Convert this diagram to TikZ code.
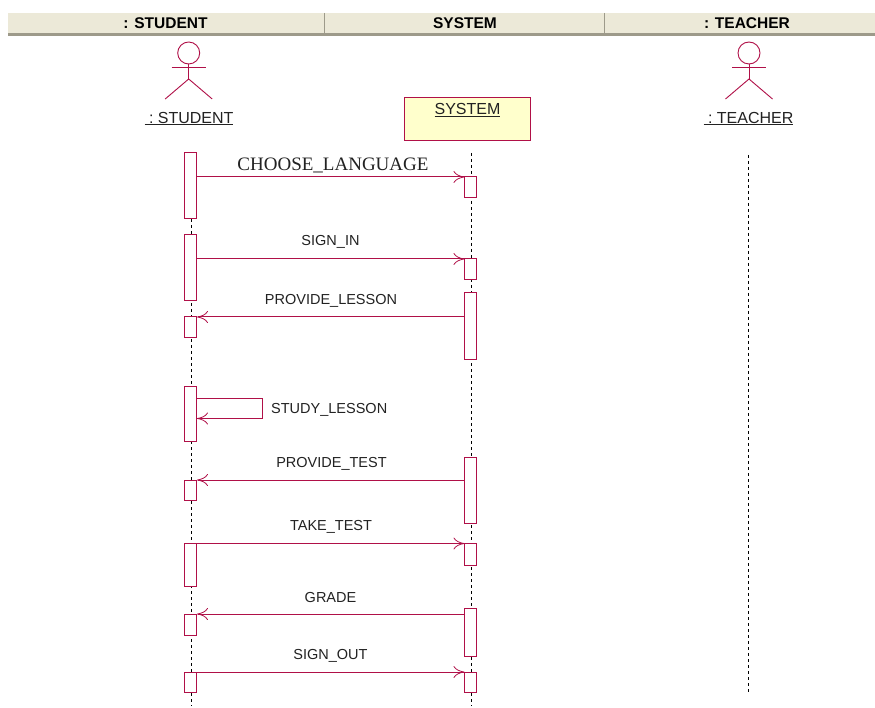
\documentclass[tikz,border=0pt]{standalone}
\usepackage{fontspec}
\setmainfont{Liberation Sans}
\newfontfamily\serifmsg{Liberation Serif}
\usetikzlibrary{arrows.meta}
\definecolor{umlred}{HTML}{B01048}
\definecolor{headbg}{HTML}{ECE9D8}
\definecolor{headdk}{HTML}{9D9A8A}
\definecolor{notebg}{HTML}{FFFFCC}
\definecolor{txt}{HTML}{222222}
\tikzset{
  act/.style={draw=umlred,fill=white,line width=1pt,minimum width=12.5pt,inner sep=0pt,outer sep=0pt},
  life/.style={draw=black,line width=1pt,dash pattern=on 3pt off 3pt},
  msg/.style={draw=umlred,line width=1pt,-{To[length=11pt,width=12pt,line width=.8pt,fill=none]}},
  call/.style={draw=umlred,line width=1pt},
  lbl/.style={text=txt,font=\fontsize{14.5}{16}\selectfont,inner sep=0pt},
  who/.style={text=txt,font=\fontsize{16}{18}\selectfont,inner sep=0pt},
  head/.style={text=black,font=\fontsize{15.5}{18}\selectfont\bfseries,inner sep=0pt},
  limb/.style={draw=umlred,line width=.9pt},
  divider/.style={draw=headdk,line width=1.6pt},
}
\begin{document}
\begin{tikzpicture}[x=1pt,y=-1pt]
\useasboundingbox (0,0) rectangle (875,708);
\fill[white] (0,0) rectangle (875,708);
% header
\fill[headbg] (8,13) rectangle (875,33);
\fill[headdk] (8,33) rectangle (875,36);
\coordinate (d1a) at (324.5,13); \coordinate (d1b) at (324.5,33);
\coordinate (d2a) at (604.5,13); \coordinate (d2b) at (604.5,33);
\draw[divider] (d1a) -- (d1b);
\draw[divider] (d2a) -- (d2b);
\node[head] (hs) at (165.5,23.5) {: STUDENT};
\node[head] (hy) at (465,23.5) {SYSTEM};
\node[head] (ht) at (747,23.5) {: TEACHER};
% lifelines
\coordinate (sTop) at (191,153); \coordinate (sEnd) at (191,706);
\coordinate (yTop) at (471.5,153); \coordinate (yEnd) at (471.5,706);
\coordinate (tTop) at (748.5,155); \coordinate (tEnd) at (748.5,692);
\draw[life] (sTop) -- (sEnd);
\draw[life] (yTop) -- (yEnd);
\draw[life] (tTop) -- (tEnd);
% actors
\foreach \n/\cx in {sa/188.7,ta/749}{
  \node[circle,draw=umlred,line width=.9pt,minimum size=22pt,inner sep=0pt] (\n head) at (\cx,53) {};
  \coordinate (\n hip) at (\cx,79);
  \coordinate (\n la) at (\cx-17,67);
  \coordinate (\n ra) at (\cx+17,67);
  \coordinate (\n ll) at (\cx-23.5,99);
  \coordinate (\n rl) at (\cx+23.5,99);
  \draw[limb] (\n head.south) -- (\n hip);
  \draw[limb] (\n la) -- (\n ra);
  \draw[limb] (\n ll) -- (\n hip) -- (\n rl);
}
\node[who] (sl) at (189,118.5) {\underline{\ :\ STUDENT}};
\node[who] (tl) at (748.5,118.5) {\underline{\ :\ TEACHER}};
% system object
\node[draw=umlred,fill=notebg,line width=1pt,minimum width=126pt,minimum height=43pt,inner sep=0pt] (sys) at (467.5,119) {};
\node[who] (syst) at (467.5,110) {\underline{SYSTEM}};
% activation bars: student
\foreach \n/\a/\b in {s1/153/219,s2/235/301,s3/317/338,s4/386/441,s5/480/500,s6/543.5/586.5,s7/614/635,s8/672/692}
  \node[act,minimum height=\b pt-\a pt] (\n) at (190.7,{(\a+\b)/2}) {};
% activation bars: system
\foreach \n/\a/\b in {y1/177/198,y2/259/280,y3/293/359,y4/457/523,y5/543.5/565,y6/608/656,y7/672/692}
  \node[act,minimum height=\b pt-\a pt] (\n) at (470.7,{(\a+\b)/2}) {};
% messages
\draw[msg] (s1.east |- y1.north) -- (y1.north west);
\draw[msg] (s2.east |- y2.north) -- (y2.north west);
\draw[msg] (y3.west |- s3.north) -- (s3.north east);
\coordinate (la) at (262,398);
\coordinate (lb) at (262,418.5);
\draw[call] (s4.east |- la) -- (la) -- (lb);
\draw[msg] (lb) -- (s4.east |- lb);
\draw[msg] (y4.west |- s5.north) -- (s5.north east);
\draw[msg] (s6.north east) -- (y5.north west);
\draw[msg] (y6.west |- s7.north) -- (s7.north east);
\draw[msg] (s8.north east) -- (y7.north west);
% labels
\node[text=txt,font=\serifmsg\fontsize{19}{21}\selectfont,inner sep=0pt] (m1) at (333,165) {CHOOSE\_LANGUAGE};
\node[lbl] (m2) at (330.5,241.5) {SIGN\_IN};
\node[lbl] (m3) at (331,301) {PROVIDE\_LESSON};
\node[lbl,anchor=west] (m4) at (271,410) {STUDY\_LESSON};
\node[lbl] (m5) at (331.5,463.5) {PROVIDE\_TEST};
\node[lbl] (m6) at (331,527) {TAKE\_TEST};
\node[lbl] (m7) at (330.5,597.5) {GRADE};
\node[lbl] (m8) at (330.5,655.5) {SIGN\_OUT};
\end{tikzpicture}
\end{document}
